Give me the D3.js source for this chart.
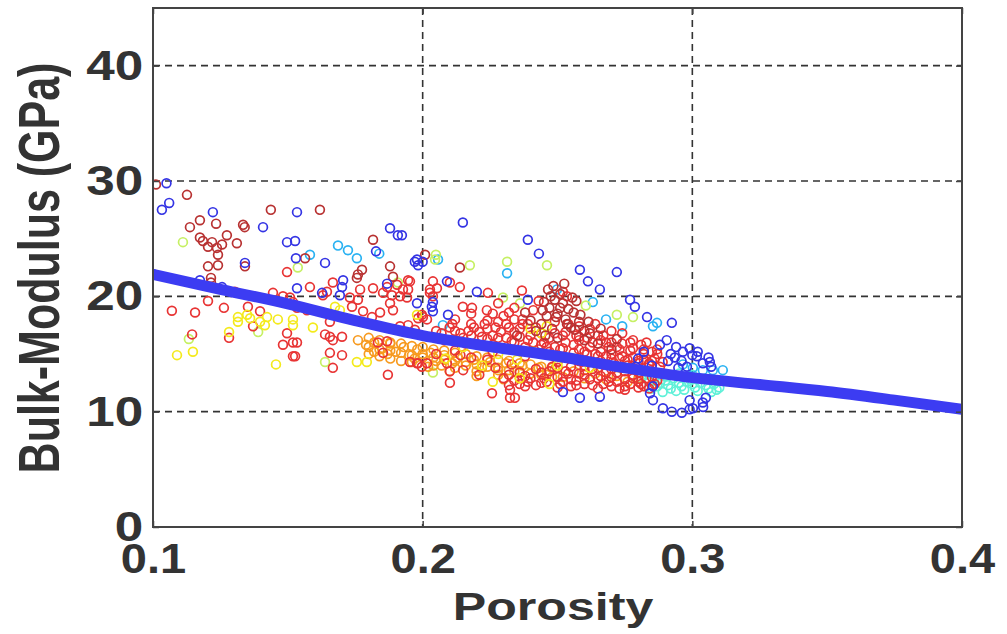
<!DOCTYPE html>
<html>
<head>
<meta charset="utf-8">
<script src="https://cdn.jsdelivr.net/npm/d3@7"></script>
<style>
  html, body { margin: 0; padding: 0; background: #fff; }
  svg { display: block; }
  text { font-family: "Liberation Sans", Arial, sans-serif; font-weight: bold; fill: #333; }
</style>
</head>
<body>
<svg id="chart" width="1007" height="634"></svg>
<script>
// Axis ticks
const xTicks = [0.1, 0.2, 0.3, 0.4];
const yTicks = [0, 10, 20, 30, 40];

// Fitted model curve: porosity vs bulk modulus (GPa)
const modelPorosity = [0.1, 0.125, 0.15, 0.175, 0.2, 0.225, 0.25, 0.275, 0.3, 0.325, 0.35, 0.375, 0.4];
const modelModulus  = [21.9, 20.6, 19.35, 17.9, 16.6, 15.65, 14.8, 13.8, 12.95, 12.35, 11.75, 11.0, 10.2];

// Measured samples, grouped by colour class: [porosity, bulk modulus]
const bluePts = [
  [0.105,29.8],[0.1033,27.5],[0.106,28.1],[0.1222,27.3],[0.1534,27.3],[0.1408,26.0],[0.1497,24.7],[0.153,23.3],
  [0.1341,22.9],[0.1534,20.7],[0.1174,21.4],[0.1256,20.8],[0.1527,24.8],[0.1638,22.9],[0.1879,25.9],[0.1908,25.3],
  [0.1827,23.9],[0.1979,23.2],[0.1983,22.7],[0.1705,21.4],[0.1701,20.8],[0.1868,21.1],[0.2034,19.1],[0.2038,18.7],
  [0.2149,26.4],[0.239,24.9],[0.2431,23.7],[0.2583,22.3],[0.272,22.1],[0.2613,21.3],[0.2657,20.6],[0.1923,25.3],
  [0.1971,23.0],[0.209,21.3],[0.2201,20.4],[0.239,19.7],[0.2769,19.7],[0.2787,19.1],[0.2832,18.2],[0.2924,17.7],
  [0.2038,19.5],[0.2094,18.4],[0.252,11.7],[0.2583,11.2],[0.2657,11.3],[0.2854,11.0],[0.2891,10.3],[0.2924,10.0],
  [0.2961,9.9],[0.299,11.0],[0.3002,10.3],[0.2843,11.6],[0.2854,12.2],[0.299,15.5],[0.3017,14.8],[0.2935,14.7],
  [0.2965,15.2],[0.3039,14.2],[0.3065,14.3],[0.3039,10.8],[0.299,10.2],[0.2799,14.6],[0.282,15.2],[0.285,14.0],
  [0.279,13.9],[0.288,15.8],[0.2905,16.2],[0.2948,13.8],[0.291,14.4],[0.305,11.2],[0.304,10.4],[0.1003,21.9],
  [0.1693,20.1],[0.1627,20.3],[0.1979,19.4],[0.2,23.0],
  [0.292,15.0],[0.296,14.4],[0.3,14.9],[0.302,15.2],[0.306,14.7],[0.294,15.6],[0.298,13.9],[0.307,13.9]
];
const darkRedPts = [
  [0.1011,29.7],[0.1126,28.8],[0.1437,27.5],[0.1174,26.6],[0.1137,26.0],[0.1234,26.3],[0.1334,26.2],[0.134,26.0],
  [0.1174,25.1],[0.1185,24.8],[0.1219,24.7],[0.1274,25.3],[0.1311,24.6],[0.1256,24.5],[0.1237,24.2],[0.1204,24.3],
  [0.1241,23.6],[0.1241,22.7],[0.1204,22.6],[0.1341,22.6],[0.1215,21.6],[0.1215,21.2],[0.1619,27.5],[0.1816,24.9],
  [0.1564,23.3],[0.1775,22.3],[0.176,21.9],[0.1756,21.6],[0.1879,22.6],[0.189,21.7],[0.2009,23.6],[0.2138,22.5],
  [0.245,19.5],[0.247,19.0],[0.249,19.7],[0.251,20.2],[0.252,19.4],[0.254,18.9],[0.246,18.3],[0.25,18.5],
  [0.253,18.0],[0.256,18.6],[0.258,17.8],[0.244,17.6],[0.248,17.2],[0.255,17.3],[0.26,17.0],[0.238,18.6],
  [0.24,17.9],[0.242,17.0],[0.26,16.2],[0.262,16.8],[0.257,19.6],[0.235,16.6],[0.25,16.4],[0.265,15.9],
  [0.27,15.4],[0.272,16.3],[0.266,17.2],[0.2465,20.6],[0.2485,20.9],[0.2525,21.1],
  [0.2475,20.0],[0.251,19.0],[0.2555,19.9],[0.2495,18.2],[0.2535,17.6],[0.2445,18.8],[0.2585,18.4],[0.2565,17.1],
  [0.2455,16.6],[0.2615,17.8]
];
const redPts = [
  [0.1497,22.1],[0.1304,20.4],[0.1204,19.6],[0.1445,20.3],[0.1482,20.0],[0.1508,19.9],[0.1519,19.5],[0.107,18.75],
  [0.1156,18.6],[0.1263,19.0],[0.1352,19.1],[0.1397,18.7],[0.1371,17.4],[0.1145,16.7],[0.1282,16.4],[0.1497,16.8],
  [0.1482,15.8],[0.1519,16.0],[0.1519,14.8],[0.1667,21.2],[0.1582,20.8],[0.163,20.1],[0.1645,20.4],[0.173,19.9],
  [0.176,19.7],[0.1768,20.6],[0.1816,20.7],[0.1868,20.8],[0.1905,21.0],[0.1946,21.4],[0.1927,20.6],[0.1886,20.1],
  [0.1853,20.3],[0.2027,20.6],[0.2038,20.0],[0.1738,19.1],[0.1779,18.7],[0.1812,18.2],[0.1842,18.6],[0.1879,19.4],
  [0.189,18.8],[0.1916,20.0],[0.1942,19.9],[0.2001,18.2],[0.2016,18.0],[0.1571,18.8],[0.1534,19.0],[0.1656,17.8],
  [0.1638,16.7],[0.1656,16.5],[0.1701,16.5],[0.1667,16.2],[0.1534,16.0],[0.1527,14.8],[0.1656,15.1],[0.1701,14.9],
  [0.1667,13.8],[0.1834,16.0],[0.1868,16.1],[0.1853,15.1],[0.1871,13.2],[0.1916,17.4],[0.1946,17.5],[0.1971,17.1],
  [0.1983,14.2],[0.1997,13.9],[0.1953,14.3],[0.1953,21.3],[0.1946,20.6],[0.2038,21.3],[0.2053,20.7],[0.2027,20.3],
  [0.2101,21.2],[0.2138,20.8],[0.2242,20.3],[0.2368,20.5],[0.252,20.4],[0.2535,20.0],[0.2149,19.1],[0.2183,19.0],
  [0.2238,18.8],[0.1997,18.4],[0.1983,18.1],[0.2257,11.6],[0.2324,11.9],[0.2324,11.2],[0.2342,11.2],[0.1979,14.2],
  [0.2016,14.2],[0.2101,13.5],[0.2101,12.5],[0.2869,15.4],
  [0.205,17.0],[0.208,16.2],[0.211,17.6],[0.214,16.8],[0.216,15.9],[0.219,17.3],[0.222,16.5],[0.224,17.9],
  [0.226,15.8],[0.229,16.9],[0.231,17.6],[0.233,16.1],[0.236,17.2],[0.238,15.6],[0.24,16.6],[0.243,15.4],
  [0.245,16.0],[0.247,15.2],[0.249,16.8],[0.252,15.5],[0.254,17.6],[0.256,15.1],[0.258,16.5],[0.261,15.0],
  [0.263,16.0],[0.265,14.8],[0.267,16.6],[0.27,14.6],[0.272,15.6],[0.275,14.4],[0.277,15.3],[0.28,14.2],
  [0.282,15.0],[0.284,14.1],[0.286,14.6],[0.288,13.9],
  [0.205,15.0],[0.209,14.2],[0.212,15.3],[0.215,13.6],[0.218,14.7],[0.221,13.2],[0.224,14.5],[0.227,13.8],
  [0.23,12.9],[0.233,14.1],[0.236,13.4],[0.239,12.6],[0.242,13.7],[0.245,12.9],[0.248,13.9],[0.251,12.4],
  [0.254,13.3],[0.257,12.7],[0.26,13.6],[0.263,12.3],[0.266,13.1],[0.269,12.6],[0.272,13.4],[0.275,12.2],
  [0.278,12.9],[0.281,12.4],[0.284,12.0],[0.287,12.7],[0.279,13.6],[0.262,14.3],[0.25,14.3],[0.238,14.8],
  [0.226,15.2],[0.214,14.9],
  [0.23,18.3],[0.234,19.0],[0.237,18.0],[0.241,18.8],[0.243,19.6],[0.228,19.4],[0.226,18.5],[0.232,17.3],
  [0.264,17.6],[0.268,16.0],[0.274,16.8],[0.278,16.2],[0.283,16.0],
  [0.212,17.0],[0.212,18.0],[0.218,16.6],[0.218,17.6],[0.218,18.5],[0.224,16.3],[0.224,17.2],[0.228,16.4],
  [0.228,17.8],[0.234,16.0],[0.234,16.9],[0.234,18.0],[0.239,16.2],[0.239,17.6],[0.244,15.8],[0.244,16.8],
  [0.249,15.6],[0.249,17.8],[0.253,16.0],[0.253,16.9],[0.258,15.4],[0.258,16.2],[0.258,17.4],[0.262,15.6],
  [0.262,17.2],[0.266,15.2],[0.266,16.2],[0.27,15.0],[0.27,16.0],[0.27,17.0],[0.274,14.8],[0.274,15.9],
  [0.278,14.7],[0.278,15.5],[0.282,14.5],[0.282,15.4],[0.285,14.4],[0.285,15.2],
  [0.232,13.2],[0.232,12.3],[0.238,13.1],[0.238,12.2],[0.244,13.4],[0.244,12.5],[0.25,13.0],[0.25,12.1],
  [0.25,13.8],[0.255,12.8],[0.255,13.9],[0.255,12.2],[0.26,12.4],[0.26,13.2],[0.26,14.0],[0.265,12.0],
  [0.265,12.9],[0.265,13.8],[0.27,12.2],[0.27,13.0],[0.27,13.7],[0.275,11.9],[0.275,12.8],[0.275,13.5],
  [0.28,12.1],[0.28,12.6],[0.28,13.4],[0.285,12.3],[0.285,13.0],
  [0.207,16.8],[0.21,17.3],[0.215,16.4],[0.217,17.0],[0.221,16.9],[0.223,17.6],[0.226,16.6],[0.227,17.3],
  [0.231,16.4],[0.232,18.6],[0.236,16.5],[0.237,17.6],[0.241,16.0],[0.242,17.3],[0.246,15.6],[0.247,16.4],
  [0.251,15.4],[0.252,16.6],[0.256,15.8],[0.257,16.6],[0.26,15.2],[0.261,16.4],[0.264,15.0],[0.265,16.6],
  [0.268,14.8],[0.269,15.6],[0.273,14.6],[0.273,15.4],[0.276,14.5],[0.277,16.0],[0.28,14.4],[0.281,15.8],
  [0.284,14.2],[0.287,15.0],[0.289,14.3],
  [0.234,12.7],[0.236,12.4],[0.24,12.9],[0.242,12.3],[0.246,12.6],[0.247,13.5],[0.252,12.6],[0.253,13.5],
  [0.257,12.3],[0.258,13.3],[0.262,12.8],[0.263,13.7],[0.267,12.4],[0.268,13.4],[0.272,12.6],[0.273,12.0],
  [0.277,12.4],[0.278,13.2],[0.282,12.2],[0.283,12.9],[0.286,12.4],[0.276,14.0],[0.271,14.2],[0.266,14.4],
  [0.258,14.4]
];
const orangePts = [
  [0.176,16.2],[0.179,15.8],[0.182,16.0],[0.185,15.5],[0.188,15.9],[0.19,15.2],[0.193,15.6],[0.195,14.9],
  [0.198,15.4],[0.2,14.7],[0.203,15.1],[0.205,14.4],[0.208,14.9],[0.211,14.2],[0.213,14.7],[0.216,14.0],
  [0.219,14.5],[0.222,13.8],[0.225,14.3],[0.228,13.6],[0.231,14.2],[0.234,13.5],[0.237,14.0],[0.24,13.3],
  [0.243,13.8],[0.246,13.2],[0.249,13.7],[0.252,13.0],[0.256,13.5],[0.26,12.9],[0.264,13.3],[0.268,12.8],
  [0.272,13.1],[0.276,12.6],[0.28,12.9],[0.184,14.8],[0.192,14.4],[0.202,13.9],[0.21,13.5],[0.22,13.1],
  [0.23,12.8],[0.182,15.2],[0.187,15.0],[0.197,14.6],[0.207,14.0],
  [0.18,16.4],[0.18,15.6],[0.18,15.0],[0.184,16.2],[0.184,15.4],[0.188,16.0],[0.188,15.3],[0.188,14.6],
  [0.192,15.9],[0.192,15.1],[0.196,15.7],[0.196,14.9],[0.196,14.3],[0.2,15.6],[0.2,15.0],[0.204,15.4],
  [0.204,14.7],[0.204,14.0],[0.208,15.3],[0.208,14.5],[0.212,15.1],[0.212,14.4],[0.212,13.8],[0.216,15.0],
  [0.216,14.3],[0.22,14.8],[0.22,14.1],[0.22,13.5],[0.224,14.7],[0.224,13.9],[0.228,14.5],[0.228,13.8],
  [0.228,13.2],[0.232,14.4],[0.232,13.6],[0.236,14.2],[0.236,13.5],[0.236,12.9],[0.24,14.1],[0.24,13.3],
  [0.244,13.9],[0.244,13.2],[0.248,13.8],[0.248,13.0]
];
const yellowPts = [
  [0.1315,18.2],[0.1349,18.4],[0.136,18.1],[0.1315,17.8],[0.1423,18.2],[0.1397,17.8],[0.1415,17.5],[0.1463,18.0],
  [0.1282,16.9],[0.1089,14.9],[0.1148,15.2],[0.1456,14.1],[0.1519,18.0],[0.1519,17.5],[0.1593,17.3],[0.1675,19.1],
  [0.1979,18.4],[0.1756,14.3],[0.1793,14.3],[0.215,15.6],[0.222,14.0],[0.228,15.0],[0.235,14.5],[0.241,15.2],
  [0.244,16.8],[0.246,17.4],[0.24,17.2],[0.25,14.0],[0.256,14.6],[0.262,13.8],[0.236,12.9],[0.226,12.6],
  [0.247,12.4],[0.2085,14.6],[0.1693,18.8]
];
const lightGreenPts = [
  [0.1111,24.7],[0.139,16.9],[0.1133,16.3],[0.1537,22.5],[0.2049,23.6],[0.2046,23.2],[0.1908,21.2],[0.1638,14.3],
  [0.2038,13.4],[0.2175,22.7],[0.2313,23.0],[0.2461,22.7],[0.2298,19.9],[0.2361,19.4],[0.272,18.4],[0.278,18.2],
  [0.2605,19.2]
];
const cyanPts = [
  [0.1686,24.4],[0.1723,24.0],[0.1756,23.3],[0.1839,23.7],[0.1582,23.6],[0.2057,23.2],[0.2313,22.0],[0.2498,20.6],
  [0.2631,19.5],[0.2075,17.5],[0.2854,17.4],[0.2869,17.7],[0.2965,14.1],[0.3002,13.8],[0.3039,13.6],[0.3076,13.6],
  [0.3113,13.6],[0.268,18.0],[0.274,17.4]
];
const aquaPts = [
  [0.284,12.6],[0.287,12.2],[0.29,12.7],[0.292,12.0],[0.295,12.5],[0.297,11.9],[0.3,12.4],[0.302,11.8],
  [0.305,12.3],[0.307,11.7],[0.31,12.1],[0.289,11.7],[0.281,12.9],[0.283,13.2],[0.293,12.9],[0.299,12.8],
  [0.286,12.9],[0.288,12.5],[0.291,12.3],[0.294,11.8],[0.296,12.2],[0.298,12.6],[0.301,12.1],[0.303,12.5],
  [0.306,12.0],[0.308,12.4],[0.309,11.9],[0.285,12.0],[0.29,13.1],[0.295,13.3],[0.3,13.2]
];

const groups = [
  { pts: aquaPts,       color: "#5ff0d8" },
  { pts: cyanPts,       color: "#2ab2f2" },
  { pts: lightGreenPts, color: "#c6f064" },
  { pts: orangePts,     color: "#f79a1e" },
  { pts: redPts,        color: "#e83434" },
  { pts: yellowPts,     color: "#f4ea1c" },
  { pts: darkRedPts,    color: "#b83232" },
  { pts: bluePts,       color: "#3434e4" }
];

const W = 1007, H = 634;
const margin = { top: 8, right: 45, bottom: 107, left: 153 };
const iw = W - margin.left - margin.right;
const ih = H - margin.top - margin.bottom;

const x = d3.scaleLinear().domain([0.1, 0.4]).range([0, iw]);
const y = d3.scaleLinear().domain([0, 45]).range([ih, 0]);

const svg = d3.select("#chart");
const g = svg.append("g").attr("transform", `translate(${margin.left},${margin.top})`);

g.append("defs").append("clipPath").attr("id", "plotClip")
  .append("rect").attr("width", iw).attr("height", ih);

// Dashed grid at interior ticks
const gridColor = "#333";
g.append("g").selectAll("line").data(xTicks.filter(d => d > 0.1 && d < 0.4)).join("line")
  .attr("x1", d => x(d)).attr("x2", d => x(d)).attr("y1", 0).attr("y2", ih)
  .attr("stroke", gridColor).attr("stroke-width", 1.6).attr("stroke-dasharray", "7,5");
g.append("g").selectAll("line").data(yTicks.filter(d => d > 0)).join("line")
  .attr("x1", 0).attr("x2", iw).attr("y1", d => y(d)).attr("y2", d => y(d))
  .attr("stroke", gridColor).attr("stroke-width", 1.6).attr("stroke-dasharray", "7,5");

// Sample markers (open circles)
const pts = g.append("g").attr("clip-path", "url(#plotClip)");
groups.forEach(grp => {
  pts.append("g").selectAll("circle").data(grp.pts).join("circle")
    .attr("cx", d => x(d[0])).attr("cy", d => y(d[1])).attr("r", 4.4)
    .attr("fill", "none").attr("stroke", grp.color).attr("stroke-width", 1.7);
});

// Model curve drawn as a thick band
const model = modelPorosity.map((p, i) => [p, modelModulus[i]]);
g.append("path").datum(model)
  .attr("d", d3.line().x(d => x(d[0])).y(d => y(d[1])).curve(d3.curveMonotoneX))
  .attr("fill", "none").attr("stroke", "#3c3cf2").attr("stroke-width", 11)
  .attr("stroke-linecap", "round").attr("clip-path", "url(#plotClip)");

// Axes with inward ticks
const axisColor = "#444";
const xAxis = g.append("g").attr("transform", `translate(0,${ih})`)
  .call(d3.axisBottom(x).tickValues(xTicks).tickFormat(d3.format(".1f")).tickSizeInner(-6).tickSizeOuter(0).tickPadding(16));
const yAxis = g.append("g")
  .call(d3.axisLeft(y).tickValues(yTicks).tickFormat(d3.format("d")).tickSizeInner(-6).tickSizeOuter(0).tickPadding(8));
const xTop = g.append("g")
  .call(d3.axisTop(x).tickValues(xTicks).tickSizeInner(-6).tickSizeOuter(0).tickFormat(""));
const yRight = g.append("g").attr("transform", `translate(${iw},0)`)
  .call(d3.axisRight(y).tickValues(yTicks).tickSizeInner(-6).tickSizeOuter(0).tickFormat(""));

[xAxis, yAxis, xTop, yRight].forEach(a => {
  a.select(".domain").remove();
  a.selectAll(".tick line").attr("stroke", axisColor).attr("stroke-width", 1.5);
});
xAxis.selectAll(".tick text").attr("font-size", 42).attr("fill", "#333")
  .attr("transform", "scale(1.12,1)");
yAxis.selectAll(".tick text").attr("font-size", 42).attr("fill", "#333")
  .attr("transform", "scale(1.22,1)");

// Plot frame
g.append("rect").attr("width", iw).attr("height", ih)
  .attr("fill", "none").attr("stroke", axisColor).attr("stroke-width", 2);

// Axis titles
svg.append("text")
  .attr("transform", `translate(553,620) scale(1.32,1)`)
  .attr("text-anchor", "middle").attr("font-size", 38)
  .text("Porosity");
svg.append("text")
  .attr("transform", `translate(59,268) rotate(-90) scale(1,1.35)`)
  .attr("text-anchor", "middle").attr("font-size", 43)
  .text("Bulk-Modulus (GPa)");
</script>
</body>
</html>
